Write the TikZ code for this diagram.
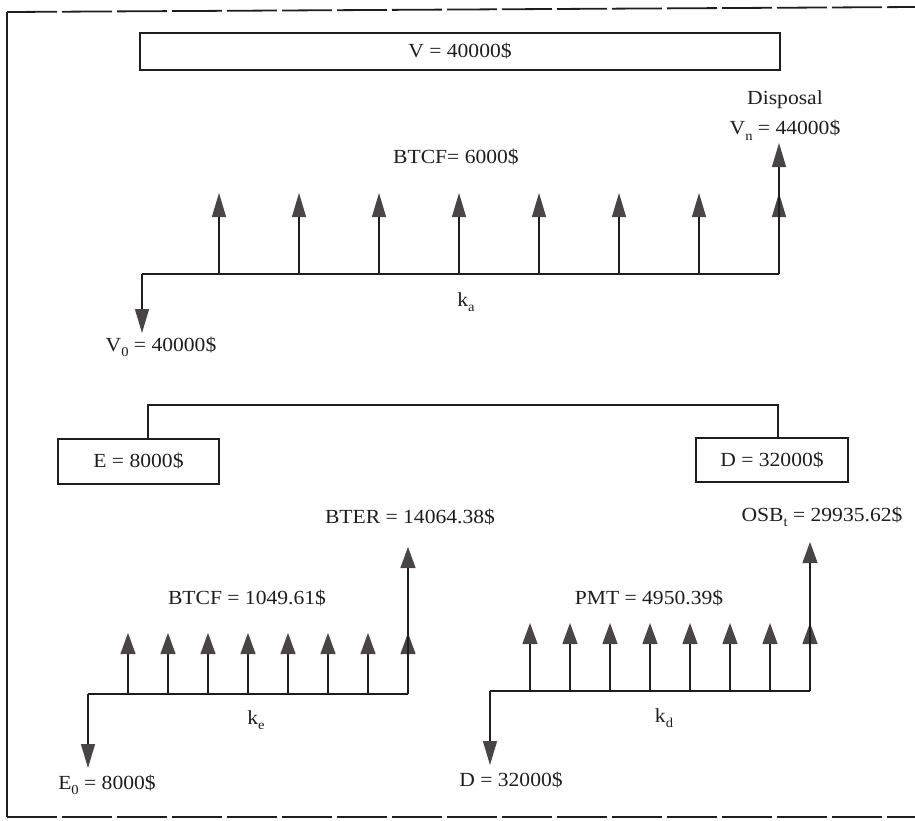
\documentclass[tikz,border=0pt]{standalone}
\usepackage{fontspec}
\setmainfont{Liberation Serif}[FakeStretch=1.08]
\usetikzlibrary{arrows.meta}
\definecolor{ink}{HTML}{1E1E1E}
\definecolor{tipgray}{HTML}{4A4545}
\newcommand{\lsub}[1]{\raisebox{-0.6ex}{\fontsize{13.5}{14}\selectfont #1}}
\begin{document}
\begin{tikzpicture}[x=1pt,y=-1pt,
  lbl/.style={font=\fontsize{20}{22}\selectfont, text=ink, inner sep=0pt},
  box/.style={draw=ink, line width=1.3pt, font=\fontsize{20}{22}\selectfont, text=ink, inner sep=0pt},
  flow/.style={draw=ink, line width=1.3pt},
  border/.style={draw=ink, line width=1.8pt, dash pattern=on 50pt off 5pt},
  uparr/.style={flow, -{Triangle[width=14pt,length=24pt,color=tipgray]}},
  smallarr/.style={flow, -{Triangle[width=15pt,length=21pt,color=tipgray]}},
  downarr/.style={flow, -{Triangle[width=14pt,length=24pt,color=tipgray]}}
]
\useasboundingbox (0,0) rectangle (915,820);

% page frame
\coordinate (fTL) at (7,12);
\coordinate (fTR) at (915,7);
\coordinate (fBL) at (7,817);
\coordinate (fBR) at (915,817);
\draw[border] (fTL) -- (fTR);
\draw[border] (fBL) -- (fBR);
\draw[draw=ink, line width=1.8pt] (fTL) -- (fBL);

% ===== top: asset =====
\node[box, minimum width=640pt, minimum height=37pt] (Vbox) at (460,51.5) {V = 40000\$};

\node[lbl] (btcfa) at (456,157) {BTCF= 6000\$};
\node[lbl] (disp) at (785,100) {Disposal};
\node[lbl] (vn) at (785,130) {V\lsub{n} = 44000\$};
\node[lbl] (v0) at (161,347) {V\lsub{0} = 40000\$};
\node[lbl] (ka) at (466,302) {k\lsub{a}};

\coordinate (a0) at (142,274);
\coordinate (a0tip) at (142,333);
\foreach \i in {1,...,8}{
  \pgfmathsetmacro\xx{139+80*\i}
  \coordinate (a\i) at (\xx,274);
  \coordinate (at\i) at (\xx,193);
  \draw[uparr] (a\i) -- (at\i);
}
\coordinate (vntip) at (779,143);
\draw[flow] (a0) -- (a8);
\draw[downarr] (a0) -- (a0tip);
\draw[uparr] (a8) -- (vntip);

% ===== middle: financing split =====
\node[box, minimum width=161pt, minimum height=45pt] (Ebox) at (138.5,461.5) {E = 8000\$};
\node[box, minimum width=152pt, minimum height=44pt] (Dbox) at (772,460) {D = 32000\$};
\coordinate (bl) at (148,405);
\coordinate (br) at (778,405);
\draw[flow] (Ebox.north -| bl) -- (bl) -- (br) -- (Dbox.north -| br);

\node[lbl] (bter) at (410,517) {BTER = 14064.38\$};
\node[lbl] (osb) at (822,517) {OSB\lsub{t} = 29935.62\$};

% ===== bottom left: equity =====
\node[lbl] (btcfe) at (247,598) {BTCF = 1049.61\$};
\node[lbl] (ke) at (256,720) {k\lsub{e}};
\node[lbl] (e0) at (107,785) {E\lsub{0} = 8000\$};

\coordinate (e0s) at (88,694);
\coordinate (e0tip) at (88,768);
\foreach \i in {1,...,8}{
  \pgfmathsetmacro\xx{88+40*\i}
  \coordinate (e\i) at (\xx,694);
  \coordinate (et\i) at (\xx,633);
  \draw[smallarr] (e\i) -- (et\i);
}
\coordinate (btertip) at (408,547);
\draw[flow] (e0s) -- (e8);
\draw[downarr] (e0s) -- (e0tip);
\draw[smallarr] (e8) -- (btertip);

% ===== bottom right: debt =====
\node[lbl] (pmt) at (649,598) {PMT = 4950.39\$};
\node[lbl] (kd) at (664,718) {k\lsub{d}};
\node[lbl] (d0) at (511,780) {D = 32000\$};

\coordinate (d0s) at (490,691);
\coordinate (d0tip) at (490,765);
\foreach \i in {1,...,8}{
  \pgfmathsetmacro\xx{490+40*\i}
  \coordinate (d\i) at (\xx,691);
  \coordinate (dt\i) at (\xx,623);
  \draw[smallarr] (d\i) -- (dt\i);
}
\coordinate (osbtip) at (810,542);
\draw[flow] (d0s) -- (d8);
\draw[downarr] (d0s) -- (d0tip);
\draw[smallarr] (d8) -- (osbtip);
\end{tikzpicture}
\end{document}
